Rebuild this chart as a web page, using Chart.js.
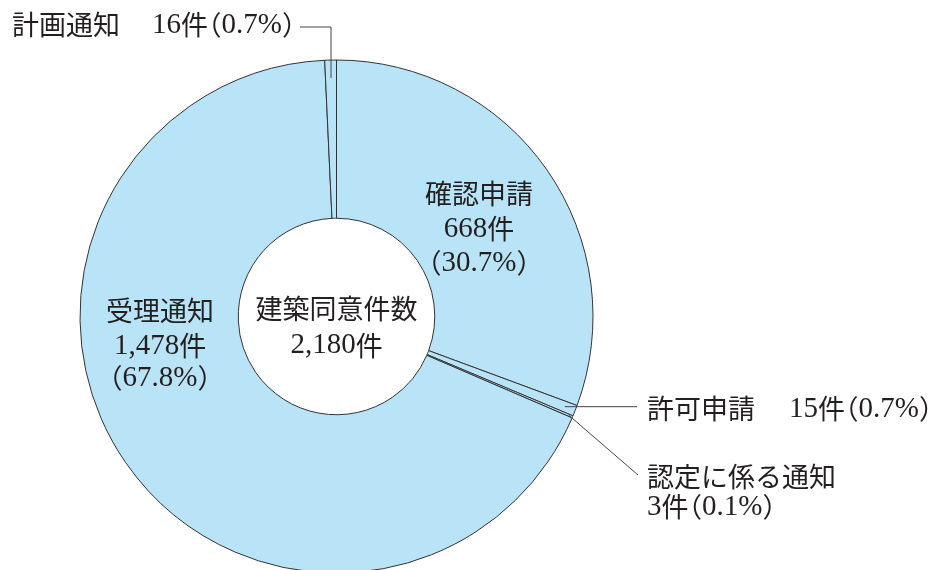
<!DOCTYPE html>
<html>
<head>
<meta charset="utf-8">
<script src="https://cdn.jsdelivr.net/npm/chart.js@4.4.1/dist/chart.umd.min.js"></script>
<style>
  html, body { margin:0; padding:0; background:#fff; overflow:hidden; }
  #wrap { position:relative; width:932px; height:570px; overflow:hidden; }
  canvas { display:block; }
</style>
</head>
<body>
<div id="wrap"><canvas id="pie" width="932" height="576"></canvas></div>
<script>
// data (clockwise from 12 o'clock)
const labels   = ["確認申請", "許可申請", "認定に係る通知", "受理通知", "計画通知"];
const counts   = [668, 15, 3, 1478, 16];
const percents = ["30.7", "0.7", "0.1", "67.8", "0.7"];
const totalLabel = "建築同意件数";
const totalCount = 2180;

const LATIN = '29px "Liberation Serif", serif';
const CJK = '27px "Noto Sans CJK JP", sans-serif';
const INK = "#231f20";

function fmt(n){ return n.toLocaleString("en-US") + "件"; }

// draw a string in runs: ascii in serif, the rest in CJK font,
// full-width brackets set half width (proportional)
function drawMixed(ctx, text, x, y, align){
  const runs = [];
  for (const ch of text) {
    const f = /[\x20-\x7e]/.test(ch) ? LATIN : CJK;
    runs.push({ f, t: ch });
  }
  let w = 0;
  runs.forEach(r => {
    ctx.font = r.f;
    r.w = ctx.measureText(r.t).width;
    r.dx = 0;
    if (r.t === "（") { r.dx = -r.w * 0.5; r.w *= 0.5; }
    if (r.t === "）") { r.w *= 0.5; }
    w += r.w;
  });
  let cx = align === "center" ? x - w / 2 : x;
  ctx.textAlign = "left";
  runs.forEach(r => { ctx.font = r.f; ctx.fillText(r.t, cx + r.dx, y); cx += r.w; });
}

const labelPlugin = {
  id: "labels",
  afterDraw(chart){
    const ctx = chart.ctx;
    const arcs = chart.getDatasetMeta(0).data;
    ctx.save();
    ctx.fillStyle = INK;
    ctx.strokeStyle = "#444";
    ctx.lineWidth = 1;
    ctx.textBaseline = "middle";

    // point on slice mid-angle, some px in from outer edge
    const mid = (i, inset) => {
      const a = arcs[i].getProps(["x","y","startAngle","endAngle","outerRadius"], true);
      const ang = (a.startAngle + a.endAngle) / 2;
      const r = a.outerRadius - inset;
      return { x: a.x + r * Math.cos(ang), y: a.y + r * Math.sin(ang) };
    };

    // centre text
    const c = arcs[0];
    drawMixed(ctx, totalLabel, c.x, c.y - 8, "center");
    drawMixed(ctx, fmt(totalCount), c.x, c.y + 29, "center");

    // 確認申請 (inside)
    drawMixed(ctx, labels[0], 479, 194, "center");
    drawMixed(ctx, fmt(counts[0]), 479, 229, "center");
    drawMixed(ctx, "（" + percents[0] + "%）", 479, 263, "center");

    // 受理通知 (inside)
    drawMixed(ctx, labels[3], 160, 311, "center");
    drawMixed(ctx, fmt(counts[3]), 160, 346, "center");
    drawMixed(ctx, "（" + percents[3] + "%）", 160, 378, "center");

    // 計画通知 (top left, elbow leader)
    let p = mid(4, 18);
    ctx.beginPath();
    ctx.moveTo(p.x, p.y);
    ctx.lineTo(p.x, 27);
    ctx.lineTo(300, 27);
    ctx.stroke();
    drawMixed(ctx, labels[4], 12, 25, "left");
    drawMixed(ctx, counts[4] + "件（" + percents[4] + "%）", 152, 25, "left");

    // 許可申請
    p = mid(1, 11);
    ctx.beginPath();
    ctx.moveTo(p.x, p.y);
    ctx.lineTo(637, p.y);
    ctx.stroke();
    drawMixed(ctx, labels[1], 647, 409, "left");
    drawMixed(ctx, counts[1] + "件（" + percents[1] + "%）", 789, 409, "left");

    // 認定に係る通知
    p = mid(2, 4);
    ctx.beginPath();
    ctx.moveTo(p.x, p.y);
    ctx.lineTo(638, 475);
    ctx.stroke();
    drawMixed(ctx, labels[2], 647, 477, "left");
    drawMixed(ctx, counts[2] + "件（" + percents[2] + "%）", 647, 507, "left");

    ctx.restore();
  }
};

new Chart(document.getElementById("pie"), {
  type: "doughnut",
  data: {
    labels,
    datasets: [{
      data: counts,
      backgroundColor: "#b9e4f8",
      borderColor: "#333",
      borderWidth: 1
    }]
  },
  options: {
    responsive: false,
    animation: false,
    cutout: "38.3%",
    layout: { padding: { left: 79.5, top: 59.5, right: 338.5, bottom: 2.5 } },
    plugins: { legend: { display: false }, tooltip: { enabled: false } }
  },
  plugins: [labelPlugin]
});
</script>
</body>
</html>
